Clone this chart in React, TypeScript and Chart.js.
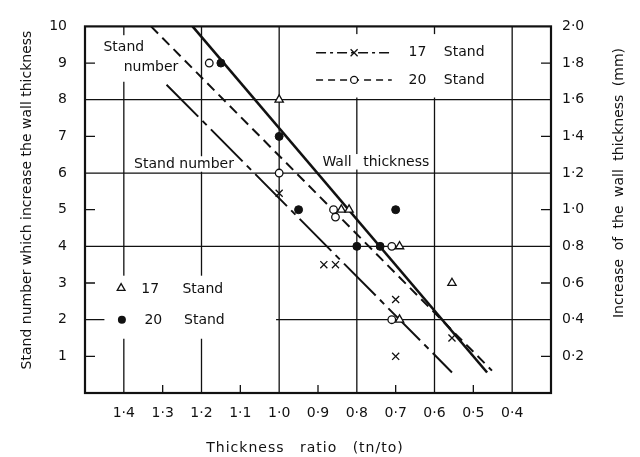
import React, { useEffect, useRef } from "react";
import { Chart, registerables } from "chart.js";

Chart.register(...registerables);

const FONT = '"DejaVu Sans", "Liberation Sans", sans-serif';
const INK = "#111";

// ---- axis ticks ----
const xTickValues = [1.4, 1.3, 1.2, 1.1, 1.0, 0.9, 0.8, 0.7, 0.6, 0.5, 0.4];
const xTickLabels = ["1·4", "1·3", "1·2", "1·1", "1·0", "0·9", "0·8", "0·7", "0·6", "0·5", "0·4"];
const leftTickValues = [1, 2, 3, 4, 5, 6, 7, 8, 9, 10];
const leftTickLabels = ["1", "2", "3", "4", "5", "6", "7", "8", "9", "10"];
const rightTickValues = [0.2, 0.4, 0.6, 0.8, 1.0, 1.2, 1.4, 1.6, 1.8, 2.0];
const rightTickLabels = ["0·2", "0·4", "0·6", "0·8", "1·0", "1·2", "1·4", "1·6", "1·8", "2·0"];

// grid
const xMajorGrid = [1.4, 1.2, 1.0, 0.8, 0.6, 0.4];
const xMinorTicks = [1.3, 1.1, 0.9, 0.7, 0.5];
const yMajorGrid = [2, 4, 6, 8];
const yMinorTicks = [1, 3, 5, 7, 9];

// ---- measured points ----
// stand number (left axis)
const tri17X = [1.0, 0.84, 0.82, 0.69, 0.555, 0.69];
const tri17Y = [8, 5, 5, 4, 3, 2];
const dot20X = [1.15, 1.0, 0.95, 0.7, 0.8, 0.74];
const dot20Y = [9, 7, 5, 5, 4, 4];
// increase of wall thickness, mm (right axis)
const circ20X = [1.18, 1.0, 0.86, 0.855, 0.71, 0.71];
const circ20Mm = [1.8, 1.2, 1.0, 0.96, 0.8, 0.4];
const cross17X = [1.0, 0.885, 0.855, 0.7, 0.555, 0.7];
const cross17Mm = [1.09, 0.7, 0.7, 0.51, 0.3, 0.2];

// ---- fitted lines ----
const wallLineX = [1.223, 0.4645];
const wallLineMm = [2.0, 0.112];
const stand20LineX = [1.33, 0.452];
const stand20LineY = [10, 0.61];
const stand17LineX = [1.29, 0.555];
const stand17LineY = [8.41, 0.56];

const pts = (xs: number[], ys: number[]) => xs.map((x, i) => ({ x, y: ys[i] }));
const labelFor = (vals: number[], labels: string[], v: number) => {
  const i = vals.findIndex((t) => Math.abs(t - v) < 1e-6);
  return i >= 0 ? labels[i] : "";
};

function marker(ctx: CanvasRenderingContext2D, style: string, x: number, y: number) {
  ctx.save();
  ctx.setLineDash([]);
  ctx.lineWidth = 1.3;
  ctx.strokeStyle = INK;
  ctx.fillStyle = "#fff";
  ctx.beginPath();
  if (style === "triangle") {
    const r = 4.5;
    ctx.moveTo(x, y - r);
    ctx.lineTo(x + r * 0.866, y + r * 0.5);
    ctx.lineTo(x - r * 0.866, y + r * 0.5);
    ctx.closePath();
    ctx.fill();
    ctx.stroke();
  } else if (style === "dot") {
    ctx.fillStyle = INK;
    ctx.arc(x, y, 4, 0, Math.PI * 2);
    ctx.fill();
  } else if (style === "circle") {
    ctx.arc(x, y, 3.5, 0, Math.PI * 2);
    ctx.fill();
    ctx.stroke();
  } else if (style === "cross") {
    const d = 3.5;
    ctx.moveTo(x - d, y - d);
    ctx.lineTo(x + d, y + d);
    ctx.moveTo(x + d, y - d);
    ctx.lineTo(x - d, y + d);
    ctx.stroke();
  }
  ctx.restore();
}

const figurePlugin = {
  id: "figure",
  beforeDatasetsDraw(chart: any) {
    const { ctx, chartArea: ca, scales } = chart;
    const xs = scales.x;
    const yl = scales.y;
    const yr = scales.y2;
    const X = (v: number) => xs.getPixelForValue(v);
    const Y = (v: number) => yl.getPixelForValue(v);
    const YR = (v: number) => yr.getPixelForValue(v);

    ctx.save();
    ctx.strokeStyle = INK;
    ctx.setLineDash([]);
    ctx.lineWidth = 1.3;
    ctx.beginPath();
    xMajorGrid.forEach((v) => {
      const x = X(v);
      ctx.moveTo(x, ca.top);
      ctx.lineTo(x, ca.bottom);
    });
    yMajorGrid.forEach((v) => {
      const y = Y(v);
      ctx.moveTo(ca.left, y);
      ctx.lineTo(ca.right, y);
    });
    yMinorTicks.forEach((v) => {
      const y = Y(v);
      ctx.moveTo(ca.left, y);
      ctx.lineTo(ca.left + 10, y);
      const yr2 = YR(v / 5);
      ctx.moveTo(ca.right, yr2);
      ctx.lineTo(ca.right - 10, yr2);
    });
    xMinorTicks.forEach((v) => {
      const x = X(v);
      ctx.moveTo(x, ca.bottom);
      ctx.lineTo(x, ca.bottom - 8);
    });
    ctx.stroke();

    ctx.lineWidth = 2.2;
    ctx.strokeRect(ca.left, ca.top, ca.right - ca.left, ca.bottom - ca.top);

    // white boxes (labels & legends interrupt the grid)
    const boxes = [
      [1.47, 1.25, 9.76, 8.49],
      [1.45, 1.008, 3.2, 1.48],
      [0.949, 0.414, 9.79, 8.06],
    ];
    ctx.fillStyle = "#fff";
    boxes.forEach(([x0, x1, y0, y1]) => {
      ctx.fillRect(X(x0), Y(y0), X(x1) - X(x0), Y(y1) - Y(y0));
    });

    ctx.font = `14px ${FONT}`;
    ctx.textBaseline = "middle";
    const note = (text: string, x: number, y: number, box: boolean, ws = 0) => {
      ctx.wordSpacing = `${ws}px`;
      const w = ctx.measureText(text).width;
      const px = X(x);
      const py = Y(y);
      if (box) {
        ctx.fillStyle = "#fff";
        ctx.fillRect(px - w / 2 - 3, py - 8, w + 6, 15.5);
      }
      ctx.fillStyle = INK;
      ctx.textAlign = "center";
      ctx.fillText(text, px, py);
      ctx.wordSpacing = "0px";
    };
    note("Stand", 1.4, 9.42, false);
    note("number", 1.33, 8.89, false);
    note("Stand number", 1.245, 6.24, true);
    note("Wall thickness", 0.751, 6.3, true, 7);

    // lower-left legend (stand number markers)
    ctx.textAlign = "left";
    ctx.fillStyle = INK;
    marker(ctx, "triangle", X(1.407), Y(2.86));
    ctx.fillText("17", X(1.355), Y(2.84));
    ctx.fillText("Stand", X(1.249), Y(2.84));
    marker(ctx, "dot", X(1.405), Y(2.0));
    ctx.fillText("20", X(1.347), Y(1.97));
    ctx.fillText("Stand", X(1.245), Y(1.97));

    // upper-right legend (wall thickness lines)
    const rows = [
      { y: 9.28, dash: [10, 4, 3, 4], mk: "cross", num: "17" },
      { y: 8.54, dash: [7, 5], mk: "circle", num: "20" },
    ];
    rows.forEach((r) => {
      const py = Y(r.y);
      ctx.save();
      ctx.lineWidth = 1.5;
      ctx.setLineDash(r.dash);
      ctx.beginPath();
      ctx.moveTo(X(0.905), py);
      ctx.lineTo(X(0.71), py);
      ctx.stroke();
      ctx.restore();
      marker(ctx, r.mk, X(0.807), py);
      ctx.fillStyle = INK;
      ctx.textAlign = "left";
      ctx.fillText(r.num, X(0.667), py);
      ctx.fillText("Stand", X(0.576), py);
    });

    // axis titles
    ctx.fillStyle = INK;
    ctx.textAlign = "center";
    ctx.save();
    ctx.translate(27, 200);
    ctx.rotate(-Math.PI / 2);
    ctx.fillText("Stand number which increase the wall thickness", 0, 0);
    ctx.restore();
    ctx.save();
    ctx.translate(619, 183);
    ctx.rotate(-Math.PI / 2);
    ctx.wordSpacing = "4px";
    ctx.fillText("Increase of the wall thickness (mm)", 0, 0);
    ctx.restore();
    ctx.save();
    ctx.letterSpacing = "1px";
    ctx.wordSpacing = "10px";
    ctx.fillText("Thickness ratio (tn/to)", 305, 448);
    ctx.restore();

    ctx.restore();
  },
};

export default function App() {
  const ref = useRef<HTMLCanvasElement>(null);
  useEffect(() => {
    document.body.style.margin = "0";
    const canvas = ref.current as HTMLCanvasElement;
    const tickFont = { family: FONT, size: 14 };
    const chart = new Chart(canvas, {
      type: "scatter",
      data: {
        datasets: [
          {
            label: "17 Stand (stand number)",
            data: pts(tri17X, tri17Y),
            yAxisID: "y",
            pointStyle: "triangle",
            pointRadius: 4.8,
            borderColor: INK,
            backgroundColor: "#fff",
            borderWidth: 1.3,
            order: 0,
          },
          {
            label: "20 Stand (stand number)",
            data: pts(dot20X, dot20Y),
            yAxisID: "y",
            pointStyle: "circle",
            pointRadius: 4,
            borderColor: INK,
            backgroundColor: INK,
            borderWidth: 1,
            order: 0,
          },
          {
            label: "20 Stand (wall thickness)",
            data: pts(circ20X, circ20Mm),
            yAxisID: "y2",
            pointStyle: "circle",
            pointRadius: 3.8,
            borderColor: INK,
            backgroundColor: "#fff",
            borderWidth: 1.3,
            order: 0,
          },
          {
            label: "17 Stand (wall thickness)",
            data: pts(cross17X, cross17Mm),
            yAxisID: "y2",
            pointStyle: "crossRot",
            pointRadius: 5,
            borderColor: INK,
            borderWidth: 1.3,
            order: 0,
          },
          {
            label: "Wall thickness",
            data: pts(wallLineX, wallLineMm),
            yAxisID: "y2",
            showLine: true,
            pointRadius: 0,
            borderColor: INK,
            borderWidth: 2.6,
            order: 1,
          },
          {
            label: "Stand number 20",
            data: pts(stand20LineX, stand20LineY),
            yAxisID: "y",
            showLine: true,
            pointRadius: 0,
            borderColor: INK,
            borderWidth: 2,
            borderDash: [10, 6],
            order: 1,
          },
          {
            label: "Stand number 17",
            data: pts(stand17LineX, stand17LineY),
            yAxisID: "y",
            showLine: true,
            pointRadius: 0,
            borderColor: INK,
            borderWidth: 2,
            borderDash: [45, 6, 6, 6],
            order: 1,
          },
        ],
      },
      options: {
        responsive: false,
        animation: false,
        events: [],
        layout: { padding: { top: 15, left: 0, right: 0, bottom: 0 } },
        plugins: { legend: { display: false }, tooltip: { enabled: false } },
        scales: {
          x: {
            type: "linear",
            position: "bottom",
            min: 0.3,
            max: 1.5,
            reverse: true,
            grid: { display: false, drawTicks: false },
            border: { display: false },
            afterBuildTicks: (s: any) => {
              s.ticks = xTickValues.map((v) => ({ value: v }));
            },
            afterFit: (s: any) => {
              s.height = 64;
            },
            ticks: {
              autoSkip: false,
              maxRotation: 0,
              padding: 12,
              color: INK,
              font: tickFont,
              callback: (v: any) => labelFor(xTickValues, xTickLabels, Number(v)),
            },
          },
          y: {
            type: "linear",
            position: "left",
            min: 0,
            max: 10,
            grid: { display: false, drawTicks: false },
            border: { display: false },
            afterBuildTicks: (s: any) => {
              s.ticks = leftTickValues.map((v) => ({ value: v }));
            },
            afterFit: (s: any) => {
              s.width = 85;
            },
            ticks: {
              autoSkip: false,
              padding: 18,
              color: INK,
              font: tickFont,
              callback: (v: any) => labelFor(leftTickValues, leftTickLabels, Number(v)),
            },
          },
          y2: {
            type: "linear",
            position: "right",
            min: 0,
            max: 2,
            grid: { display: false, drawTicks: false },
            border: { display: false },
            afterBuildTicks: (s: any) => {
              s.ticks = rightTickValues.map((v) => ({ value: v }));
            },
            afterFit: (s: any) => {
              s.width = 89;
            },
            ticks: {
              autoSkip: false,
              padding: 11,
              color: INK,
              font: tickFont,
              callback: (v: any) => labelFor(rightTickValues, rightTickLabels, Number(v)),
            },
          },
        },
      },
      plugins: [figurePlugin],
    } as any);
    return () => chart.destroy();
  }, []);
  return (
    <div style={{ width: 640, height: 457 }}>
      <canvas ref={ref} width={640} height={457} style={{ display: "block" }} />
    </div>
  );
}
